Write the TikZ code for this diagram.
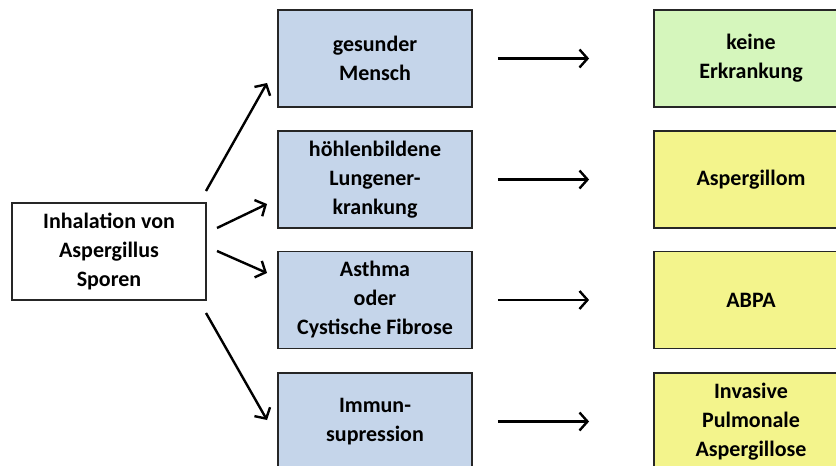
\documentclass[tikz,border=0pt]{standalone}
\usepackage{fontspec}
\setmainfont{Carlito}
\usetikzlibrary{arrows.meta}
\definecolor{boxblue}{RGB}{197,213,234}
\definecolor{boxgreen}{RGB}{213,246,188}
\definecolor{boxyellow}{RGB}{243,244,140}
\tikzset{
  box/.style={draw=black!85, line width=1.8pt, minimum width=194pt,
    minimum height=97pt, inner sep=0pt, align=center,
    font=\fontsize{22}{29}\selectfont\bfseries},
  arr/.style={line width=2.4pt, -{Straight Barb[length=8pt,width=18pt]}}
}
\begin{document}
\begin{tikzpicture}[x=1pt,y=-1pt]
\useasboundingbox (0,0) rectangle (836,466);
\clip (0,0) rectangle (836,466);
% start
\node[box,fill=white] (inh) at (109,251.5) {Inhalation von\\Aspergillus\\Sporen};
% risk groups
\node[box,fill=boxblue] (gesund) at (375,58.5) {gesunder\\Mensch};
\node[box,fill=boxblue] (hoehle) at (375,179.5) {höhlenbildene\\Lungener-\\krankung};
\node[box,fill=boxblue] (asthma) at (375,300) {Asthma\\oder\\Cystische Fibrose};
\node[box,fill=boxblue] (immun) at (375,421.5) {Immun-\\supression};
% outcomes
\node[box,fill=boxgreen] (keine) at (751,58.5) {keine\\Erkrankung};
\node[box,fill=boxyellow] (aspgm) at (751,179.5) {Aspergillom};
\node[box,fill=boxyellow] (abpa) at (751,300) {ABPA};
\node[box,fill=boxyellow] (ipa) at (751,421.5) {Invasive\\Pulmonale\\Aspergillose};
% fan out
\coordinate (a1) at (206,191);
\coordinate (b1) at (267,83);
\coordinate (a2) at (217,228);
\coordinate (b2) at (267,204);
\coordinate (a3) at (217,251);
\coordinate (b3) at (267,273);
\coordinate (a4) at (206,313);
\coordinate (b4) at (267,420);
\draw[arr] (a1) -- (b1);
\draw[arr] (a2) -- (b2);
\draw[arr] (a3) -- (b3);
\draw[arr] (a4) -- (b4);
% results
\draw[arr,shorten <=25pt,shorten >=64pt] (gesund) -- (keine);
\draw[arr,shorten <=25pt,shorten >=64pt] (hoehle) -- (aspgm);
\draw[arr,shorten <=25pt,shorten >=64pt] (asthma) -- (abpa);
\draw[arr,shorten <=25pt,shorten >=64pt] (immun) -- (ipa);
\end{tikzpicture}
\end{document}
